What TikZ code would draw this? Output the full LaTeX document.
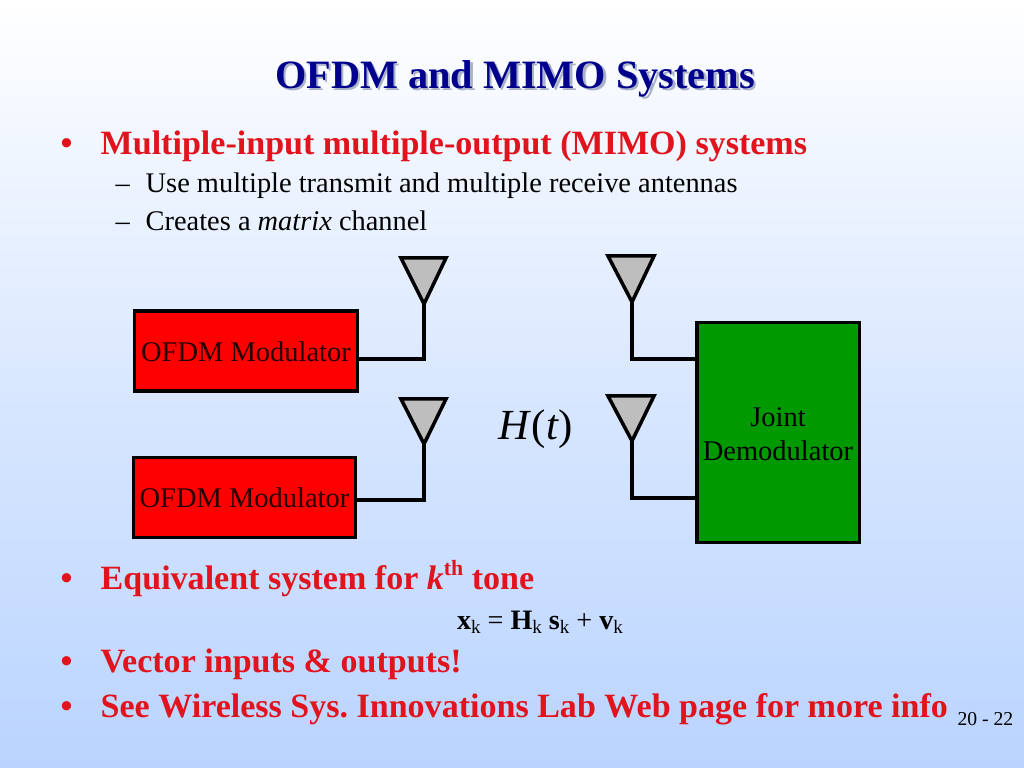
\documentclass[tikz,border=0pt]{standalone}
\usepackage{fontspec}
\setmainfont{Liberation Serif}
\frenchspacing
\definecolor{titleblue}{RGB}{0,0,140}
\definecolor{shadowgray}{RGB}{170,178,200}
\definecolor{bulletred}{RGB}{225,20,30}
\definecolor{modred}{RGB}{255,0,0}
\definecolor{demodgreen}{RGB}{0,153,0}
\definecolor{antgray}{RGB}{190,190,190}
\definecolor{skyblue}{RGB}{186,212,255}
\tikzset{
  titletext/.style={font=\fontsize{11.45}{13}\selectfont\bfseries,anchor=base},
  headline/.style={font=\fontsize{9.68}{11}\selectfont\bfseries,text=bulletred,anchor=base west,inner sep=0pt},
  subline/.style={font=\fontsize{8.08}{10}\selectfont,text=black,anchor=base west,inner sep=0pt},
  modbox/.style={draw=black,line width=0.88pt,fill=modred,minimum width=2.22cm,minimum height=0.8cm,inner sep=0pt,font=\fontsize{8.1}{10}\selectfont,text=black!85!red,text height=5.9pt,text depth=0pt},
  demodbox/.style={draw=black,line width=0.88pt,fill=demodgreen,minimum width=1.62cm,minimum height=2.19cm,inner sep=0pt},
  demodlabel/.style={font=\fontsize{8.1}{9.7}\selectfont,align=center,inner sep=0pt},
  antenna/.style={draw=black,line width=1pt,fill=antgray,line join=miter},
  wire/.style={draw=black,line width=1pt,line join=miter}
}
\begin{document}
\begin{tikzpicture}[x=0.01cm,y=-0.01cm]
  \useasboundingbox (0,0) rectangle (1024,768);
  \shade[top color=white,bottom color=skyblue,middle color=white!45!skyblue] (0,0) rectangle (1024,768);

  % heading
  \node[titletext,text=shadowgray] (titleback) at (517.5,91) {OFDM and MIMO Systems};
  \node[titletext,text=titleblue] (title) at (515,89) {OFDM and MIMO Systems};

  \node[headline] (b1) at (60,155) {•};
  \node[headline] (l1) at (100,155) {Multiple-input multiple-output (MIMO) systems};
  \node[subline] (d1) at (115,193) {–};
  \node[subline] (l2) at (145,193) {Use multiple transmit and multiple receive antennas};
  \node[subline] (d2) at (115,230.5) {–};
  \node[subline] (l3) at (145,230.5) {Creates a \textit{matrix} channel};

  % blocks
  \node[modbox] (mod1) at (246,351) {OFDM Modulator};
  \node[modbox] (mod2) at (244.5,497.5) {OFDM Modulator};
  \node[demodbox] (demod) at (778,432.5) {};
  \node[demodlabel] (demodtext) at (778,434.5) {Joint\\Demodulator};

  % antennas
  \coordinate (a1) at (424,304);
  \coordinate (a2) at (632,302);
  \coordinate (a3) at (424,444);
  \coordinate (a4) at (632,441);
  \coordinate (f1) at (424,359);
  \coordinate (f2) at (632,359);
  \coordinate (f3) at (424,500);
  \coordinate (f4) at (632,498);

  \draw[antenna] (401,258)--(446,258)--(a1)--cycle;
  \draw[antenna] (608,256)--(654,256)--(a2)--cycle;
  \draw[antenna] (401,399)--(446,399)--(a3)--cycle;
  \draw[antenna] (608,396)--(654,396)--(a4)--cycle;

  \draw[wire] (mod1.east |- f1) -- (f1) -- (a1);
  \draw[wire] (mod2.east |- f3) -- (f3) -- (a3);
  \draw[wire] (demod.west |- f2) -- (f2) -- (a2);
  \draw[wire] (demod.west |- f4) -- (f4) -- (a4);

  \node[font=\fontsize{12.2}{14}\selectfont,anchor=base,inner sep=0pt] (channel) at (536,440) {\textit{H}(\textit{t})};

  % lower bullets
  \node[headline] (b2) at (60,590) {•};
  \node[headline] (l4) at (100,590) {Equivalent system for \textit{k}\raisebox{0.9ex}{\fontsize{6.2}{7}\selectfont th} tone};
  \node[font=\fontsize{8}{10}\selectfont,anchor=base,inner sep=0pt] (eq) at (540,630) {\textbf{x}\raisebox{-0.25ex}{\fontsize{5.4}{6}\selectfont k} = \textbf{H}\raisebox{-0.25ex}{\fontsize{5.4}{6}\selectfont k} \textbf{s}\raisebox{-0.25ex}{\fontsize{5.4}{6}\selectfont k} + \textbf{v}\raisebox{-0.25ex}{\fontsize{5.4}{6}\selectfont k}};
  \node[headline] (b3) at (60,673) {•};
  \node[headline] (l5) at (100,673) {Vector inputs \& outputs!};
  \node[headline] (b4) at (60,718) {•};
  \node[headline] (l6) at (100,718) {See Wireless Sys. Innovations Lab Web page for more info};

  \node[font=\fontsize{5.6}{7}\selectfont,anchor=base east,inner sep=0pt] (page) at (1014,726) {20 - 22};
\end{tikzpicture}
\end{document}
